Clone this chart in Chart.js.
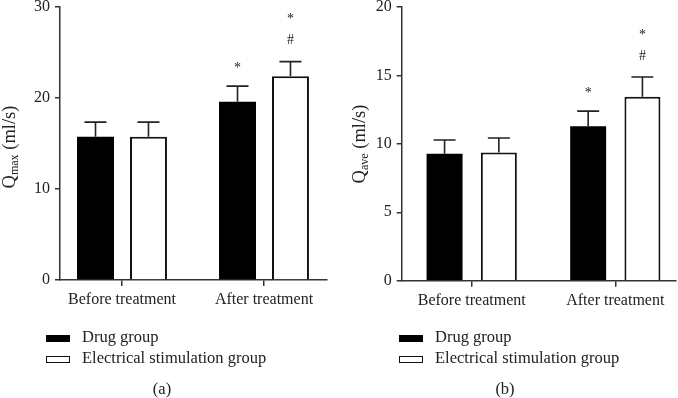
<!DOCTYPE html>
<html>
<head>
<meta charset="utf-8">
<script src="https://cdn.jsdelivr.net/npm/chart.js@4/dist/chart.umd.min.js"></script>
<style>
  html, body { margin: 0; padding: 0; background: #fff; }
  #wrap { position: relative; width: 678px; height: 398px; overflow: hidden; font-family: 'Liberation Serif', 'Times New Roman', serif; color: #222; }
  canvas { position: absolute; top: 0; }
  .leg { position: absolute; font-size: 16.5px; line-height: 20px; white-space: nowrap; }
  .box { position: absolute; width: 24px; height: 7px; box-sizing: border-box; }
  .cap { position: absolute; font-size: 16.5px; line-height: 20px; transform: translateX(-50%); }
</style>
</head>
<body>
<div id="wrap">
  <canvas id="cA" width="340" height="398" style="left:0"></canvas>
  <canvas id="cB" width="338" height="398" style="left:340px"></canvas>
  <div id="legA"></div>
  <div id="legB"></div>
  <div class="cap" style="left:162px; top:379px">(a)</div>
  <div class="cap" style="left:505px; top:379px">(b)</div>
</div>
<script>
// ---- data ----
const categories = ['Before treatment', 'After treatment'];
const seriesNames = ['Drug group', 'Electrical stimulation group'];

const qmaxDrug   = [15.75, 19.6];
const qmaxDrugSD = [1.6, 1.7];
const qmaxES     = [15.75, 22.4];
const qmaxESSD   = [1.6, 1.6];
const qmaxDrugMarks = ['', '*'];
const qmaxESMarks   = ['', '#*'];
const qmaxTicks = [0, 10, 20, 30];

const qaveDrug   = [9.28, 11.29];
const qaveDrugSD = [1.0, 1.1];
const qaveES     = [9.36, 13.45];
const qaveESSD   = [1.07, 1.44];
const qaveDrugMarks = ['', '*'];
const qaveESMarks   = ['', '#*'];
const qaveTicks = [0, 5, 10, 15, 20];

// ---- styles ----
const FONT = "'Liberation Serif', 'Times New Roman', serif";
const INK = '#222';
const AXIS = '#333';
const seriesFill = ['#000000', '#ffffff'];
const seriesBorder = ['#000000', '#111111'];

const errorBarPlugin = {
  id: 'errorBars',
  afterDatasetsDraw(chart) {
    const ctx = chart.ctx;
    const ys = chart.scales.y;
    ctx.save();
    ctx.strokeStyle = INK;
    ctx.lineWidth = 1.6;
    chart.data.datasets.forEach((ds, di) => {
      const meta = chart.getDatasetMeta(di);
      meta.data.forEach((bar, i) => {
        const v = ds.data[i].y;
        const top = ys.getPixelForValue(v + ds.sd[i]);
        ctx.beginPath();
        ctx.moveTo(bar.x, bar.y);
        ctx.lineTo(bar.x, top);
        ctx.moveTo(bar.x - 11, top);
        ctx.lineTo(bar.x + 11, top);
        ctx.stroke();
        const marks = ds.marks[i] || '';
        ctx.fillStyle = INK;
        ctx.textAlign = 'center';
        ctx.textBaseline = 'middle';
        for (let k = 0; k < marks.length; k++) {
          const ch = marks[k];
          const yy = top - 21 - 24 * k;
          ctx.font = '14px ' + FONT;
          ctx.fillText(ch, bar.x, ch === '*' ? yy + 3 : yy);
        }
      });
    });
    ctx.restore();
  }
};

const yTitlePlugin = {
  id: 'yTitle',
  afterDraw(chart, args, opts) {
    const ctx = chart.ctx;
    ctx.save();
    ctx.translate(opts.x, opts.y);
    ctx.rotate(-Math.PI / 2);
    ctx.fillStyle = INK;
    ctx.textBaseline = 'middle';
    const big = '18.5px ' + FONT, small = '12px ' + FONT;
    ctx.font = big;
    const wQ = ctx.measureText('Q').width;
    const wRest = ctx.measureText(' (ml/s)').width;
    ctx.font = small;
    const wSub = ctx.measureText(opts.sub).width;
    const total = wQ + wSub + wRest;
    let x = -total / 2;
    ctx.textAlign = 'left';
    ctx.font = big;
    ctx.fillText('Q', x, 0);
    x += wQ;
    ctx.font = small;
    ctx.fillText(opts.sub, x, 5);
    x += wSub;
    ctx.font = big;
    ctx.fillText(' (ml/s)', x, 0);
    ctx.restore();
  }
};

function makeChart(id, cfg) {
  const datasets = [cfg.drug, cfg.es].map((vals, si) => ({
    label: seriesNames[si],
    data: vals.map((v, i) => ({ x: i, y: v })),
    sd: si === 0 ? cfg.drugSD : cfg.esSD,
    marks: si === 0 ? cfg.drugMarks : cfg.esMarks,
    backgroundColor: seriesFill[si],
    borderColor: seriesBorder[si],
    borderWidth: si === 0 ? 0 : 2,
    borderSkipped: 'start',
    categoryPercentage: cfg.catPct,
    barPercentage: cfg.barPct
  }));
  return new Chart(document.getElementById(id), {
    type: 'bar',
    data: { datasets },
    plugins: [errorBarPlugin, yTitlePlugin],
    options: {
      responsive: false,
      animation: false,
      devicePixelRatio: 1,
      layout: { autoPadding: false, padding: { left: 0, right: cfg.padRight, top: 7, bottom: 0 } },
      plugins: {
        legend: { display: false },
        tooltip: { enabled: false },
        yTitle: { x: cfg.titleX, y: cfg.titleY, sub: cfg.sub }
      },
      scales: {
        x: {
          type: 'linear',
          offset: false,
          min: cfg.xMin, max: cfg.xMax,
          afterBuildTicks: s => { s.ticks = categories.map((_, i) => ({ value: i })); },
          afterFit: s => { s.height = cfg.xHeight; s.paddingLeft = 0; s.paddingRight = 0; },
          ticks: {
            autoSkip: false, maxRotation: 0, padding: 4,
            color: INK, font: { family: FONT, size: 16 },
            callback: v => categories[v]
          },
          grid: { display: true, offset: false, drawOnChartArea: false, drawTicks: true, tickLength: 6, color: AXIS, lineWidth: 1.5 },
          border: { display: true, color: AXIS, width: 1.5 }
        },
        y: {
          min: cfg.ticks[0], max: cfg.ticks[cfg.ticks.length - 1],
          afterBuildTicks: s => { s.ticks = cfg.ticks.map(v => ({ value: v })); },
          afterFit: s => { s.width = cfg.yWidth; s.paddingTop = 0; s.paddingBottom = 0; },
          ticks: { padding: 5, color: INK, font: { family: FONT, size: 16 } },
          grid: { display: true, drawOnChartArea: false, drawTicks: true, tickLength: 5, color: AXIS, lineWidth: 1.5 },
          border: { display: true, color: AXIS, width: 1.5 }
        }
      }
    }
  });
}

makeChart('cA', {
  drug: qmaxDrug, drugSD: qmaxDrugSD, es: qmaxES, esSD: qmaxESSD,
  drugMarks: qmaxDrugMarks, esMarks: qmaxESMarks, ticks: qmaxTicks,
  xMin: -0.4366, xMax: 1.4437, catPct: 0.746, barPct: 0.698,
  padRight: 13, yWidth: 60, xHeight: 118,
  titleX: 10, titleY: 147, sub: 'max'
});
makeChart('cB', {
  drug: qaveDrug, drugSD: qaveDrugSD, es: qaveES, esSD: qaveESSD,
  drugMarks: qaveDrugMarks, esMarks: qaveESMarks, ticks: qaveTicks,
  xMin: -0.4875, xMax: 1.4227, catPct: 0.756, barPct: 0.663,
  padRight: 2, yWidth: 61.7, xHeight: 117.3,
  titleX: 20, titleY: 144, sub: 'ave'
});

function legend(elId, left) {
  const el = document.getElementById(elId);
  seriesNames.forEach((name, i) => {
    const cy = 338 + i * 21;
    const b = document.createElement('div');
    b.className = 'box';
    b.style.left = left + 'px';
    b.style.top = (cy - 3.5) + 'px';
    b.style.background = seriesFill[i];
    b.style.border = '1.5px solid ' + seriesBorder[i];
    el.appendChild(b);
    const t = document.createElement('div');
    t.className = 'leg';
    t.style.left = (left + 36) + 'px';
    t.style.top = (cy - 11) + 'px';
    t.textContent = name;
    el.appendChild(t);
  });
}
legend('legA', 46);
legend('legB', 399);
</script>
</body>
</html>
